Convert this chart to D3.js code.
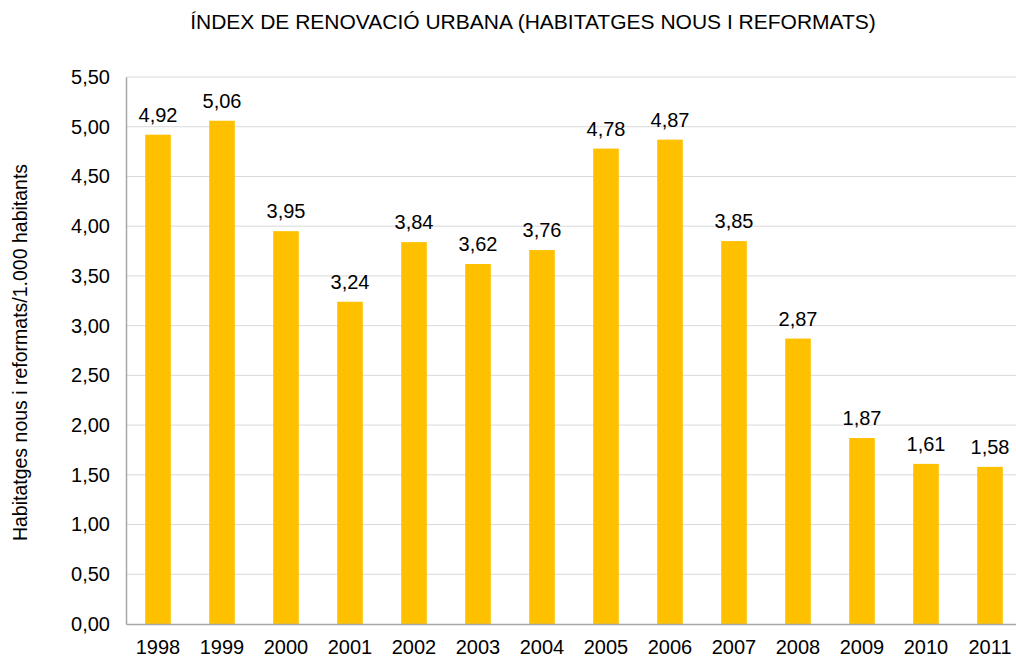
<!DOCTYPE html>
<html>
<head>
<meta charset="utf-8">
<script src="https://cdn.jsdelivr.net/npm/d3@7"></script>
<style>
  body { margin: 0; background: #fff; }
  svg { display: block; font-family: "Liberation Sans", Arial, sans-serif; }
</style>
</head>
<body>
<div id="chart"></div>
<script>
// data
const years = ["1998", "1999", "2000", "2001", "2002", "2003", "2004", "2005", "2006", "2007", "2008", "2009", "2010", "2011"];
const values = [4.92, 5.06, 3.95, 3.24, 3.84, 3.62, 3.76, 4.78, 4.87, 3.85, 2.87, 1.87, 1.61, 1.58];
const yTicks = [0, 0.5, 1, 1.5, 2, 2.5, 3, 3.5, 4, 4.5, 5, 5.5];

const svgWidth = 1016;
const svgHeight = 659;
const margin = { top: 77, right: -6, bottom: 35, left: 126 };
const width = svgWidth - margin.left - margin.right;
const height = svgHeight - margin.top - margin.bottom;

const fmt = v => d3.format(".2f")(v).replace(".", ",");

const svg = d3.select("#chart")
    .append("svg")
    .attr("width", svgWidth)
    .attr("height", svgHeight)
    .append("g")
    .attr("transform", `translate(${margin.left},${margin.top})`);

const x = d3.scaleBand()
    .domain(years)
    .range([0, width])
    .paddingInner(0.6)
    .paddingOuter(0.3);

const y = d3.scaleLinear()
    .domain([0, 5.5])
    .range([height, 0]);

// gridlines
svg.append("g")
    .selectAll("line")
    .data(yTicks.filter(d => d > 0))
    .enter()
    .append("line")
    .attr("x1", 0)
    .attr("x2", width)
    .attr("y1", d => y(d))
    .attr("y2", d => y(d))
    .attr("stroke", "#d9d9d9")
    .attr("stroke-width", 1);

// bars
svg.selectAll(".bar")
    .data(values)
    .enter()
    .append("rect")
    .attr("class", "bar")
    .attr("x", (d, i) => x(years[i]))
    .attr("y", d => y(d))
    .attr("width", x.bandwidth())
    .attr("height", d => height - y(d))
    .attr("fill", "#ffc000");

// value labels
svg.selectAll(".barLabel")
    .data(values)
    .enter()
    .append("text")
    .attr("class", "barLabel")
    .attr("x", (d, i) => x(years[i]) + x.bandwidth() / 2)
    .attr("y", d => y(d) - 13)
    .attr("text-anchor", "middle")
    .attr("font-size", "20px")
    .attr("fill", "#000")
    .text(d => fmt(d));

// axes
const yAxis = svg.append("g")
    .call(d3.axisLeft(y).tickValues(yTicks).tickFormat(fmt).tickSize(0).tickPadding(16));
yAxis.select(".domain").attr("stroke", "#a6a6a6").attr("stroke-width", 1.5);
yAxis.selectAll("text").attr("font-size", "20px").attr("fill", "#000").attr("font-family", "Liberation Sans, Arial, sans-serif");

const xAxis = svg.append("g")
    .attr("transform", `translate(0,${height})`)
    .call(d3.axisBottom(x).tickSize(0).tickPadding(16));
xAxis.select(".domain").attr("stroke", "#a6a6a6").attr("stroke-width", 1.5);
xAxis.selectAll("text").attr("font-size", "20px").attr("fill", "#000").attr("font-family", "Liberation Sans, Arial, sans-serif");

// title
d3.select("svg").append("text")
    .attr("x", 533)
    .attr("y", 29)
    .attr("text-anchor", "middle")
    .attr("font-size", "21px")
    .attr("fill", "#000")
    .text("ÍNDEX DE RENOVACIÓ URBANA (HABITATGES NOUS I REFORMATS)");

// y axis label
d3.select("svg").append("text")
    .attr("transform", `translate(27,${margin.top + height / 2 + 2}) rotate(-90)`)
    .attr("text-anchor", "middle")
    .attr("font-size", "19.5px")
    .attr("fill", "#000")
    .text("Habitatges nous i reformats/1.000 habitants");
</script>
</body>
</html>
